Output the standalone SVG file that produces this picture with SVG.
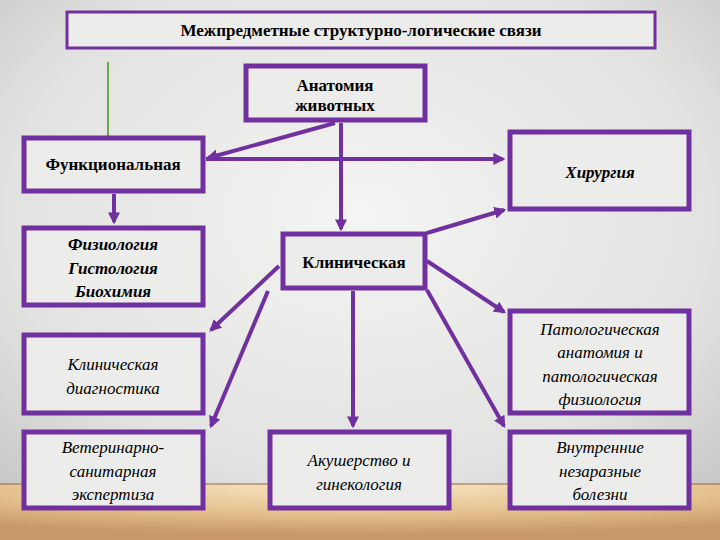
<svg xmlns="http://www.w3.org/2000/svg" width="720" height="540" viewBox="0 0 720 540">
<defs>
<radialGradient id="bg" cx="0.5" cy="0.4" r="0.7"><stop offset="0" stop-color="#f4f4f2"/><stop offset="0.7" stop-color="#e2e2e0"/><stop offset="1" stop-color="#c8c8c6"/></radialGradient>
<radialGradient id="fl" cx="0.5" cy="0" r="0.9"><stop offset="0" stop-color="#f8e6c4"/><stop offset="0.6" stop-color="#e4c08c"/><stop offset="1" stop-color="#c89868"/></radialGradient>
<marker id="ah" viewBox="0 0 10 10" refX="8" refY="5" markerWidth="3" markerHeight="3" orient="auto"><path d="M0,0L10,5L0,10z" fill="#7030a0"/></marker>
</defs>
<style>
.b{fill:#ececea;stroke:#7030a0;stroke-width:5}
text{font-family:"Times New Roman","Liberation Serif","DejaVu Serif",serif;font-size:17px;text-anchor:middle;fill:#000}
.bo{font-weight:bold}
.i{font-style:italic}
.c line{stroke:#7030a0;stroke-width:4;marker-end:url(#ah)}
</style>
<rect width="720" height="540" fill="url(#bg)"/>
<rect y="484" width="720" height="56" fill="url(#fl)"/>
<line x1="0" y1="484" x2="720" y2="484" stroke="#8a6a4a" stroke-width="1"/>
<g id="title"><rect x="67" y="12" width="588" height="36" fill="#ececea" stroke="#7030a0" stroke-width="3"/><text class="bo" x="361" y="36">Межпредметные структурно-логические связи</text></g>
<line x1="108" y1="62" x2="108" y2="146" stroke="#6aa84f" stroke-width="2"/>
<g id="anat"><rect class="b" x="246" y="66" width="179" height="54"/><text class="bo" x="335" y="91">Анатомия</text><text class="bo" x="335" y="111">животных</text></g>
<g id="func"><rect class="b" x="24" y="138" width="179" height="53"/><text class="bo" x="113" y="170">Функциональная</text></g>
<g id="hir"><rect class="b" x="510" y="132" width="179" height="77"/><text class="bo i" x="600" y="178">Хирургия</text></g>
<g id="fiz"><rect class="b" x="24" y="228" width="179" height="77"/><text class="bo i" x="113" y="250">Физиология</text><text class="bo i" x="113" y="274">Гистология</text><text class="bo i" x="113" y="297">Биохимия</text></g>
<g id="klin"><rect class="b" x="283" y="234" width="142" height="54"/><text class="bo" x="354" y="268">Клиническая</text></g>
<g id="kd"><rect class="b" x="24" y="335" width="179" height="78"/><text class="i" x="113" y="370">Клиническая</text><text class="i" x="113" y="394">диагностика</text></g>
<g id="pat"><rect class="b" x="510" y="311" width="179" height="102"/><text class="i" x="600" y="335">Патологическая</text><text class="i" x="600" y="358">анатомия и</text><text class="i" x="600" y="382">патологическая</text><text class="i" x="600" y="405">физиология</text></g>
<g id="vet"><rect class="b" x="24" y="432" width="179" height="76"/><text class="i" x="113" y="453">Ветеринарно-</text><text class="i" x="113" y="477">санитарная</text><text class="i" x="113" y="500">экспертиза</text></g>
<g id="aku"><rect class="b" x="270" y="432" width="179" height="76"/><text class="i" x="359" y="466">Акушерство и</text><text class="i" x="359" y="490">гинекология</text></g>
<g id="vnu"><rect class="b" x="510" y="432" width="179" height="76"/><text class="i" x="600" y="453">Внутренние</text><text class="i" x="600" y="477">незаразные</text><text class="i" x="600" y="500">болезни</text></g>
<g class="c" id="connectors">
<line x1="335" y1="123" x2="208" y2="158"/>
<line x1="341" y1="123" x2="341" y2="229"/>
<line x1="206" y1="159" x2="503" y2="159"/>
<line x1="114" y1="194" x2="114" y2="222"/>
<line x1="427" y1="233" x2="504" y2="210"/>
<line x1="279" y1="266" x2="211" y2="330"/>
<line x1="268" y1="291" x2="211" y2="426"/>
<line x1="353" y1="291" x2="353" y2="426"/>
<line x1="427" y1="261" x2="504" y2="312"/>
<line x1="427" y1="290" x2="504" y2="426"/>
</g>
</svg>
